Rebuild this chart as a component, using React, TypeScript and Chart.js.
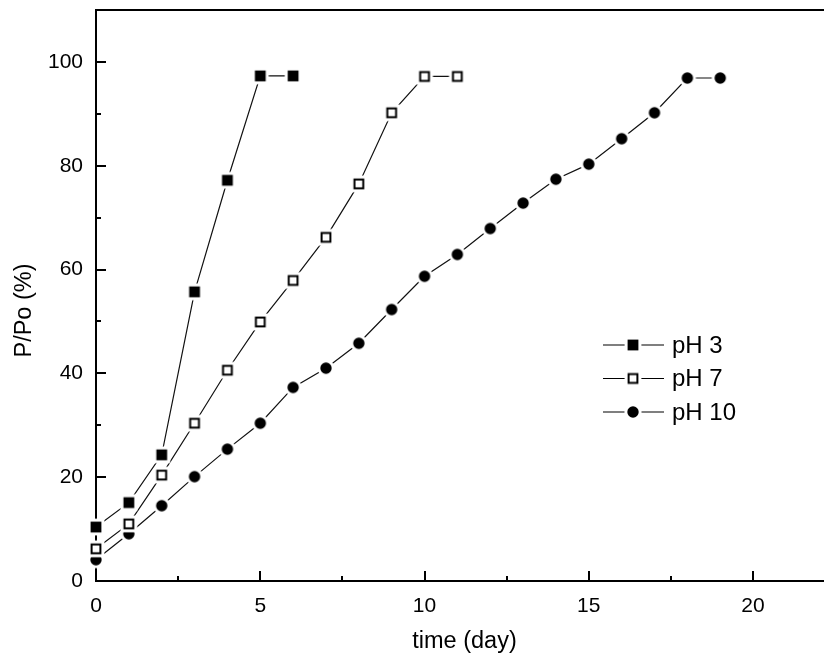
import React, { useEffect, useRef } from "react";
import { Chart, registerables } from "chart.js";

Chart.register(...registerables);

// ---- data ----
const DAYS_PH3 = [0, 1, 2, 3, 4, 5, 6];
const PH3 = [10.4, 15.1, 24.3, 55.7, 77.2, 97.3, 97.3];

const DAYS_PH7 = [0, 1, 2, 3, 4, 5, 6, 7, 8, 9, 10, 11];
const PH7 = [6.2, 11.0, 20.4, 30.4, 40.6, 49.9, 57.9, 66.2, 76.5, 90.2, 97.2, 97.2];

const DAYS_PH10 = [0, 1, 2, 3, 4, 5, 6, 7, 8, 9, 10, 11, 12, 13, 14, 15, 16, 17, 18, 19];
const PH10 = [4.1, 9.1, 14.5, 20.1, 25.4, 30.4, 37.3, 41.0, 45.8, 52.3, 58.7, 62.9, 67.9, 72.8, 77.4, 80.3, 85.2, 90.2, 96.9, 96.9];

const SERIES_LABELS = ["pH 3", "pH 7", "pH 10"];

const X_TICKS = [0, 5, 10, 15, 20];
const X_MINOR = [2.5, 7.5, 12.5, 17.5, 22.5];
const Y_TICKS = [0, 20, 40, 60, 80, 100];
const Y_MINOR = [10, 30, 50, 70, 90];

const X_TITLE = "time (day)";
const Y_TITLE = "P/Po (%)";

const FONT = "'Liberation Sans', Arial, Helvetica, sans-serif";

function makeMarker(kind: "sqFilled" | "sqOpen" | "circle"): HTMLCanvasElement {
  const c = document.createElement("canvas");
  const S = 22;
  c.width = S;
  c.height = S;
  const g = c.getContext("2d")!;
  const m = S / 2;
  if (kind === "circle") {
    g.fillStyle = "#ffffff";
    g.beginPath();
    g.arc(m, m, 8.6, 0, Math.PI * 2);
    g.fill();
    g.fillStyle = "#000000";
    g.beginPath();
    g.arc(m, m, 5.7, 0, Math.PI * 2);
    g.fill();
  } else {
    g.fillStyle = "#ffffff";
    g.fillRect(m - 8.4, m - 8.4, 16.8, 16.8);
    g.fillStyle = "#000000";
    g.fillRect(m - 5.4, m - 5.4, 10.8, 10.8);
    if (kind === "sqOpen") {
      g.fillStyle = "#ffffff";
      g.fillRect(m - 3.4, m - 3.4, 6.8, 6.8);
    }
  }
  return c;
}

const axisPlugin = {
  id: "originAxes",
  afterDraw(chart: any) {
    const ctx = chart.ctx;
    const { left, right, top, bottom } = chart.chartArea;
    const xs = chart.scales.x;
    const ys = chart.scales.y;
    ctx.save();
    ctx.strokeStyle = "#000";
    ctx.lineWidth = 2;
    ctx.beginPath();
    ctx.moveTo(left - 1, top);
    ctx.lineTo(chart.width, top);
    ctx.stroke();
    ctx.beginPath();
    X_TICKS.forEach((v) => {
      const p = Math.round(xs.getPixelForValue(v));
      ctx.moveTo(p, bottom);
      ctx.lineTo(p, bottom - 10);
    });
    X_MINOR.forEach((v) => {
      const p = Math.round(xs.getPixelForValue(v));
      if (p < right) {
        ctx.moveTo(p, bottom);
        ctx.lineTo(p, bottom - 5);
      }
    });
    Y_TICKS.forEach((v) => {
      const p = Math.round(ys.getPixelForValue(v));
      ctx.moveTo(left, p);
      ctx.lineTo(left + 10, p);
    });
    Y_MINOR.forEach((v) => {
      const p = Math.round(ys.getPixelForValue(v));
      ctx.moveTo(left, p);
      ctx.lineTo(left + 5, p);
    });
    ctx.stroke();

    ctx.fillStyle = "#000";
    ctx.font = `23.5px ${FONT}`;
    ctx.textAlign = "center";
    ctx.textBaseline = "middle";
    ctx.fillText(X_TITLE, 464.5, 642);
    ctx.save();
    ctx.translate(25, 310.5);
    ctx.rotate(-Math.PI / 2);
    ctx.fillText(Y_TITLE, 0, 0);
    ctx.restore();
    ctx.restore();

    ctx.save();
    const rows = [345, 378.5, 412];
    chart.data.datasets.forEach((ds: any, i: number) => {
      const y = rows[i];
      ctx.strokeStyle = "#000";
      ctx.lineWidth = 1.2;
      ctx.beginPath();
      ctx.moveTo(603, y);
      ctx.lineTo(664, y);
      ctx.stroke();
      const img = ds.pointStyle as HTMLCanvasElement;
      ctx.drawImage(img, 633 - img.width / 2, y - img.height / 2);
      ctx.fillStyle = "#000";
      ctx.font = `24px ${FONT}`;
      ctx.textAlign = "left";
      ctx.textBaseline = "middle";
      ctx.fillText(ds.label, 672, y + 1);
    });
    ctx.restore();
  },
};

export default function App() {
  const ref = useRef<HTMLCanvasElement | null>(null);
  useEffect(() => {
    if (!ref.current) return;
    document.body.style.overflow = "hidden";
    const mk = [makeMarker("sqFilled"), makeMarker("sqOpen"), makeMarker("circle")];
    const toPts = (xs: number[], ys: number[]) => xs.map((x, i) => ({ x, y: ys[i] }));
    const common = {
      borderColor: "#111",
      borderWidth: 1.2,
      showLine: true,
      clip: false as any,
      pointRadius: 6,
      pointHoverRadius: 6,
    };
    const chart = new Chart(ref.current, {
      type: "scatter",
      data: {
        datasets: [
          { ...common, label: SERIES_LABELS[0], data: toPts(DAYS_PH3, PH3), pointStyle: mk[0] as any },
          { ...common, label: SERIES_LABELS[1], data: toPts(DAYS_PH7, PH7), pointStyle: mk[1] as any },
          { ...common, label: SERIES_LABELS[2], data: toPts(DAYS_PH10, PH10), pointStyle: mk[2] as any },
        ],
      },
      options: {
        animation: false,
        responsive: true,
        maintainAspectRatio: false,
        layout: { autoPadding: false, padding: { top: 10, left: 0, right: 0, bottom: 0 } },
        plugins: { legend: { display: false }, tooltip: { enabled: false } },
        scales: {
          x: {
            type: "linear",
            min: 0,
            max: 22.16,
            afterBuildTicks: (s: any) => {
              s.ticks = X_TICKS.map((v) => ({ value: v }));
            },
            afterFit: (s: any) => {
              s.height = 75;
              s.paddingLeft = 0;
              s.paddingRight = 0;
            },
            grid: { display: false, drawTicks: false },
            border: { display: true, color: "#000", width: 2 },
            ticks: {
              padding: 13,
              color: "#000",
              font: { family: FONT, size: 21 },
              maxRotation: 0,
              autoSkip: false,
              callback: (v: any) => String(v),
            },
          },
          y: {
            type: "linear",
            min: 0,
            max: 110,
            afterBuildTicks: (s: any) => {
              s.ticks = Y_TICKS.map((v) => ({ value: v }));
            },
            afterFit: (s: any) => {
              s.width = 96;
              s.paddingTop = 0;
              s.paddingBottom = 0;
            },
            grid: { display: false, drawTicks: false },
            border: { display: true, color: "#000", width: 2 },
            ticks: {
              padding: 13,
              color: "#000",
              font: { family: FONT, size: 21 },
              autoSkip: false,
              callback: (v: any) => String(v),
            },
          },
        },
      },
      plugins: [axisPlugin],
    });
    return () => chart.destroy();
  }, []);
  return (
    <div style={{ position: "absolute", left: 0, top: 0, width: 824, height: 656, background: "#fff", overflow: "hidden" }}>
      <canvas ref={ref} style={{ display: "block" }} />
    </div>
  );
}
